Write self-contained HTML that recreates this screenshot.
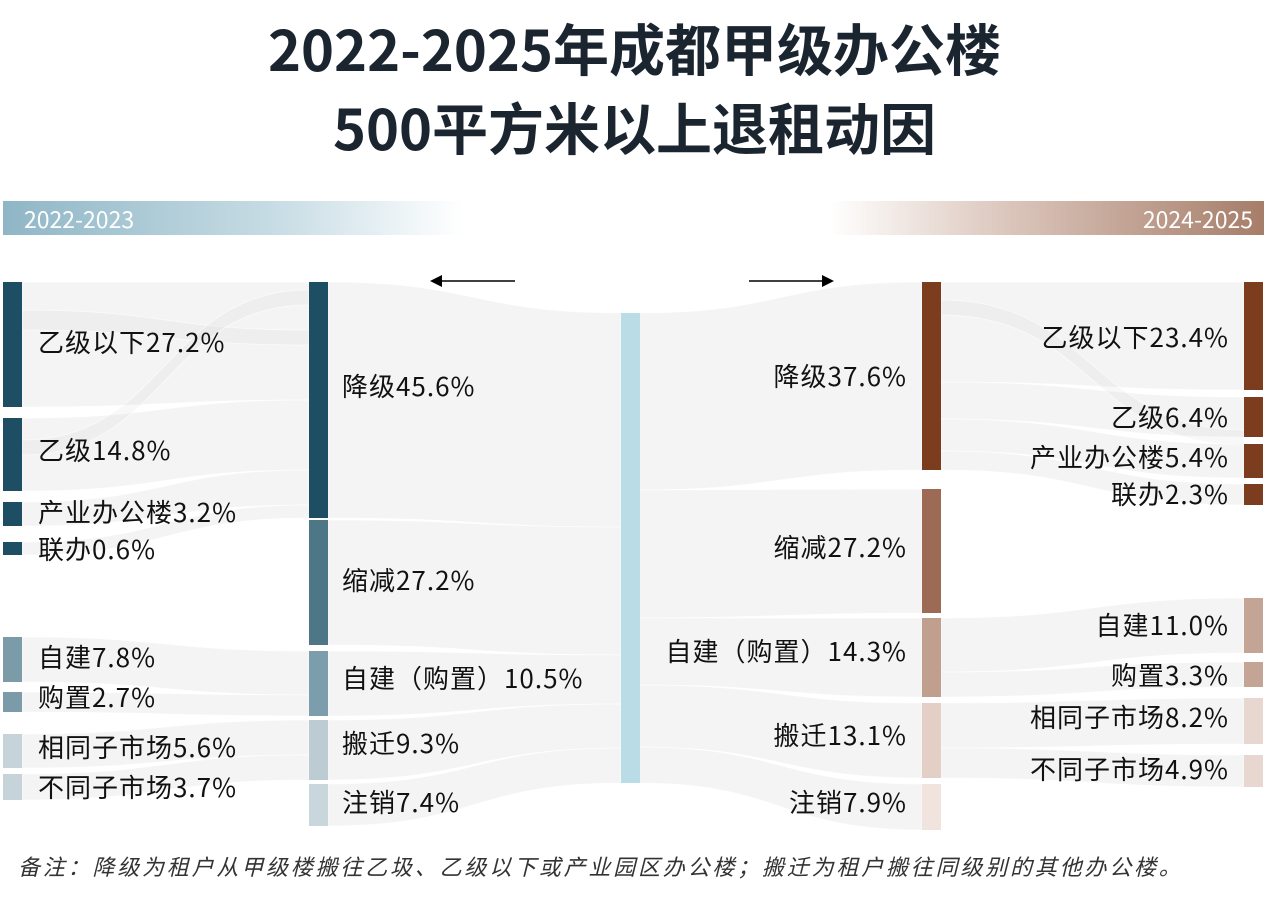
<!DOCTYPE html>
<html><head><meta charset="utf-8"><style>
html,body{margin:0;padding:0;background:#fff;}
body{width:1269px;height:908px;position:relative;overflow:hidden;font-family:"Noto Sans CJK SC","Liberation Sans",sans-serif;}
.t{position:absolute;left:0;width:1269px;text-align:center;font-weight:bold;font-size:56px;line-height:64px;color:#1b2530;}
</style></head><body>
<div class="t" style="top:16px;">2022-2025年成都甲级办公楼</div>
<div class="t" style="top:95px;">500平方米以上退租动因</div>
<div style="position:absolute;left:3px;top:201px;width:460px;height:34px;background:linear-gradient(to right,#8fb6c6,#c8dde5 60%,#fff);"></div>
<div style="position:absolute;left:24px;top:201px;color:#fff;font-size:23px;line-height:34px;">2022-2023</div>
<div style="position:absolute;left:830px;top:201px;width:434px;height:34px;background:linear-gradient(to right,#fff,#dcc7bd 40%,#a67d69);"></div>
<div style="position:absolute;right:16px;top:201px;color:#fff;font-size:23px;line-height:34px;">2024-2025</div>
<svg id="s" width="1269" height="908" style="position:absolute;left:0;top:0" xmlns="http://www.w3.org/2000/svg" font-family="Noto Sans CJK SC, Liberation Sans, sans-serif" font-size="26" letter-spacing="1" fill="#111">
<g id="flows" fill="rgba(200,200,200,0.2)" stroke="rgba(255,255,255,0.7)" stroke-width="0.8"></g>
<g id="nodes"></g>
<line x1="440" y1="281" x2="515" y2="281" stroke="#000" stroke-width="1.5"/><polygon points="430,281 442,275 442,287" fill="#000"/>
<line x1="749" y1="281" x2="824" y2="281" stroke="#000" stroke-width="1.5"/><polygon points="834,281 822,275 822,287" fill="#000"/>
<g id="labels"></g>
</svg>
<div style="position:absolute;left:18px;top:850px;font-size:22px;letter-spacing:2.8px;font-style:italic;color:#333;white-space:nowrap;">备注：降级为租户从甲级楼搬往乙圾、乙级以下或产业园区办公楼；搬迁为租户搬往同级别的其他办公楼。</div>
<script>
var ns="http://www.w3.org/2000/svg";
function el(g,t,a,txt){var e=document.createElementNS(ns,t);for(var k in a)e.setAttribute(k,a[k]);if(txt)e.textContent=txt;document.getElementById(g).appendChild(e);}
function band(x0,a0,b0,x1,a1,b1,f){var m=(x0+x1)/2;var at={d:"M"+x0+","+a0+" C"+m+","+a0+" "+m+","+a1+" "+x1+","+a1+" L"+x1+","+b1+" C"+m+","+b1+" "+m+","+b0+" "+x0+","+b0+" Z"};if(f)at.fill=f;el("flows","path",at);}
var L="rgba(200,200,200,0.12)";
band(22,282,407,309,282,400);band(22,418,491,309,400,470);band(22,502,526,309,470,505);band(22,542,555,309,505,518);
band(22,637,682,309,651,695);band(22,692,712,309,695,716);band(22,734,768,309,720,755);band(22,774,800,309,755,780);
band(22,310,330,309,330,345,L);band(22,440,455,309,290,305,L);
var ys=[313,527,655,704,748,783],mt=[[282,518],[520,645],[651,716],[720,780],[784,826]];
for(var i=0;i<5;i++)band(621,ys[i],ys[i+1],328,mt[i][0],mt[i][1]);
var yr=[313,490,618,685,747,783],mr=[[282,470],[489,613],[618,697],[703,778],[784,830]];
for(var i=0;i<5;i++)band(639,yr[i],yr[i+1],922,mr[i][0],mr[i][1]);
band(941,282,382,1244,282,390);band(941,382,419,1244,397,437);band(941,419,451,1244,444,478);band(941,451,470,1244,484,505);
band(941,618,672,1244,598,653);band(941,672,697,1244,662,687);band(941,703,748,1244,698,744);band(941,748,778,1244,755,787);
band(941,300,315,1244,430,445,L);
var D="#1d4e63";
function node(x,y0,y1,c){el("nodes","rect",{x:x,y:y0,width:19,height:y1-y0,fill:c});}
node(3,282,407,D);node(3,418,491,D);node(3,502,526,D);node(3,542,555,D);
node(3,637,682,"#7c9ba9");node(3,692,712,"#7c9ba9");node(3,734,768,"#c6d4da");node(3,774,800,"#c6d4da");
node(309,282,518,D);node(309,520,645,"#4d7686");node(309,651,716,"#7c9dac");node(309,720,780,"#bdccd3");node(309,784,826,"#c9d6dc");
node(621,313,783,"#b9dce7");
node(922,282,470,"#7b3d1d");node(922,489,613,"#9d6b55");node(922,618,697,"#c09f8e");node(922,703,778,"#e3cfc6");node(922,784,830,"#f1e4de");
var B="#7b3d1d";
node(1244,282,390,B);node(1244,397,437,B);node(1244,444,478,B);node(1244,484,505,B);
node(1244,598,653,"#c4a595");node(1244,662,687,"#c4a595");node(1244,698,744,"#e7d7d0");node(1244,755,787,"#e7d7d0");
function lab(x,y,t,anc){el("labels","text",{x:x,y:y,"text-anchor":anc||"start"},t);}
lab(38,352,"乙级以下27.2%");lab(38,460,"乙级14.8%");lab(38,522,"产业办公楼3.2%");lab(38,559,"联办0.6%");
lab(38,667,"自建7.8%");lab(38,707,"购置2.7%");lab(38,757,"相同子市场5.6%");lab(38,797,"不同子市场3.7%");
lab(342,396,"降级45.6%");lab(342,590,"缩减27.2%");lab(342,688,"自建（购置）10.5%");lab(342,753,"搬迁9.3%");lab(342,812,"注销7.4%");
lab(907,386,"降级37.6%","end");lab(907,557,"缩减27.2%","end");lab(907,661,"自建（购置）14.3%","end");lab(907,745,"搬迁13.1%","end");lab(907,812,"注销7.9%","end");
lab(1229,347,"乙级以下23.4%","end");lab(1229,427,"乙级6.4%","end");lab(1229,467,"产业办公楼5.4%","end");lab(1229,504,"联办2.3%","end");
lab(1229,635,"自建11.0%","end");lab(1229,685,"购置3.3%","end");lab(1229,727,"相同子市场8.2%","end");lab(1229,779,"不同子市场4.9%","end");
</script>
</body></html>
